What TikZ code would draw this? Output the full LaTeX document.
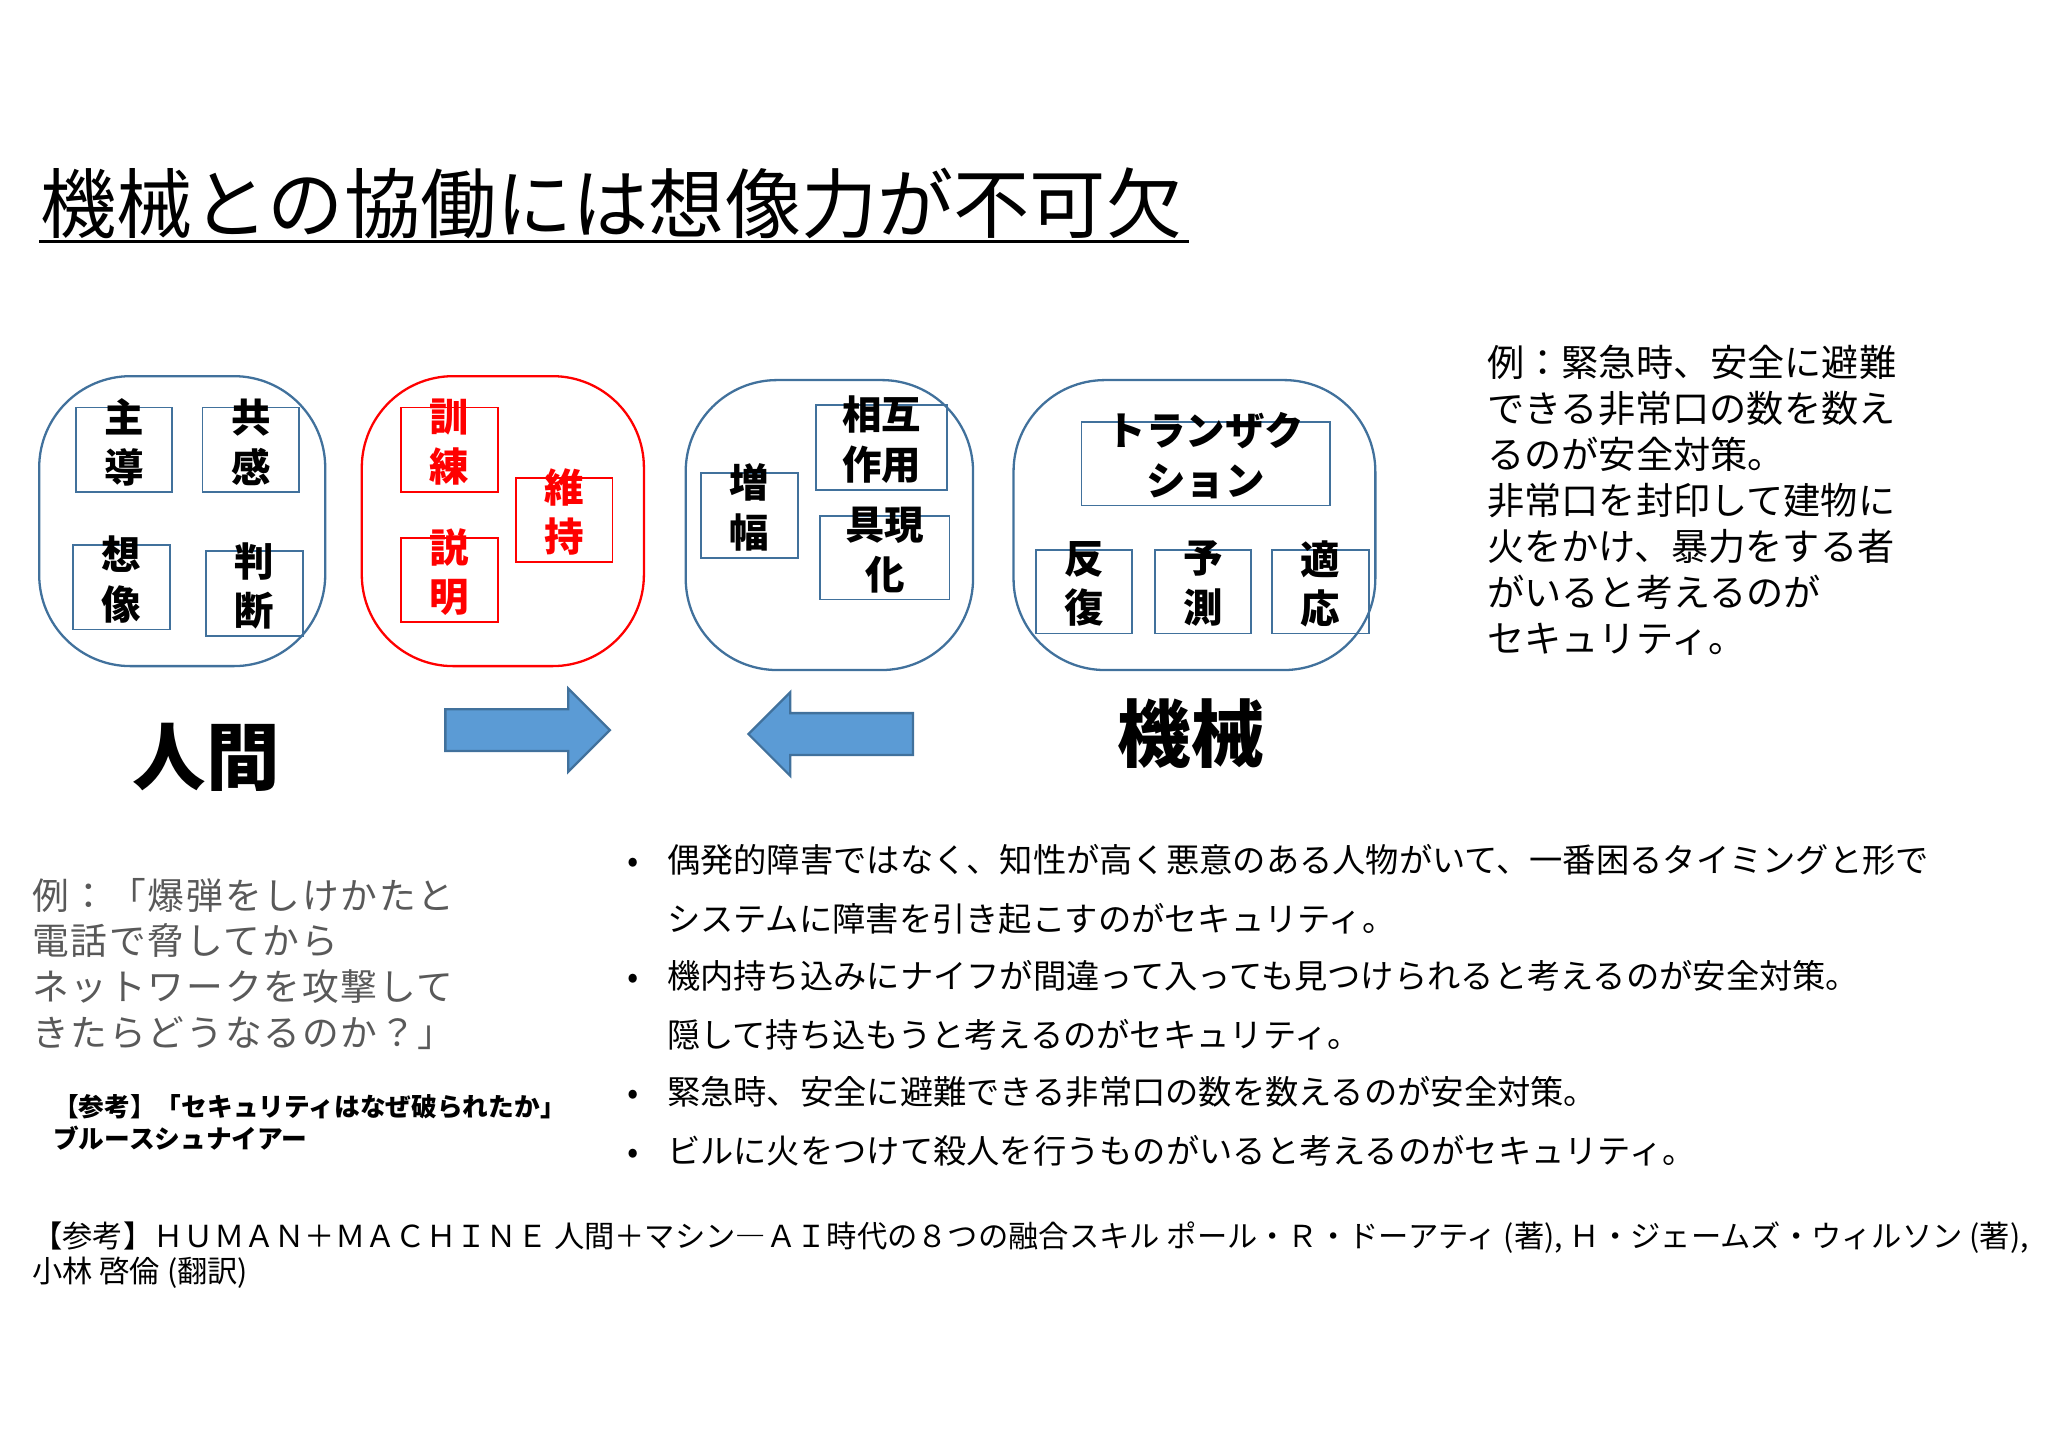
\documentclass[tikz,border=0pt]{standalone}
\usepackage{fontspec}
\setmainfont{Noto Sans CJK JP}
\begin{document}
\begin{tikzpicture}[x=0.1mm,y=-0.1mm,
  grp/.style={draw=#1,line width=0.5pt,rounded corners=7mm},
  ib/.style={draw=#1,line width=0.4pt},
  it/.style={font=\bfseries\fontsize{8.6}{10.8}\selectfont,align=center,inner sep=0pt},
  tl/.style={anchor=base west,inner sep=0pt},
  arr/.style={fill=arrblue,draw=arrdark,line width=0.5pt}]
\definecolor{bb}{HTML}{41719C}
\definecolor{arrblue}{HTML}{5B9BD5}
\definecolor{arrdark}{HTML}{41719C}
\definecolor{gt}{HTML}{595959}
\useasboundingbox (0,0) rectangle (1568,1108);
\node[tl,font=\fontsize{16.6}{18}\selectfont] (title) at (30,178) {機械との協働には想像力が不可欠};
\draw[line width=0.8pt] (30,185) -- (910,185);
% groups
\draw[grp=bb] (30,288) rectangle (249,510);
\draw[grp=red] (277,288) rectangle (493,510);
\draw[grp=bb] (525,291) rectangle (745,513);
\draw[grp=bb] (776,291) rectangle (1053,513);
% inner boxes
\foreach \x/\y/\w/\h/\c/\tc/\t in {58/312/74/65/bb/black/主\\導,155/312/74/65/bb/black/共\\感,56/417/74/65/bb/black/想\\像,158/422/74/65/bb/black/判\\断,307/312/74/65/red/red/訓\\練,395/366/74/64/red/red/維\\持,307/412/74/64/red/red/説\\明,537/362/74/65/bb/black/増\\幅,625/310/100/65/bb/black/相互\\作用,628/395/99/64/bb/black/具現\\化,828/323/190/64/bb/black/トランザク\\ション,793/421/74/64/bb/black/反\\復,884/421/74/64/bb/black/予\\測,974/421/74/64/bb/black/適\\応}{
  \draw[ib=\c] (\x,\y) rectangle ++(\w,\h);
  \node[it,text=\tc] at (\x+\w/2,\y+\h/2-6) {\t};
}
\node[font=\bfseries\fontsize{16}{18}\selectfont,inner sep=0pt] (human) at (158,580) {人間};
\node[font=\bfseries\fontsize{16}{18}\selectfont,inner sep=0pt] (machine) at (912,562) {機械};
\draw[arr] (341,543) -- (435,543) -- (435,527) -- (467,559) -- (435,591) -- (435,575) -- (341,575) -- cycle;
\draw[arr] (699,546) -- (605,546) -- (605,530) -- (573,562) -- (605,594) -- (605,578) -- (699,578) -- cycle;
% right text
\foreach \i/\t in {0/例：緊急時、安全に避難,1/できる非常口の数を数え,2/るのが安全対策。,3/非常口を封印して建物に,4/火をかけ、暴力をする者,5/がいると考えるのが,6/セキュリティ。}{
  \node[tl,font=\fontsize{8.1}{9}\selectfont] at (1138,288+35.3*\i) {\t};
}
% left example
\foreach \i/\t in {0/例：「爆弾をしけかたと,1/電話で脅してから,2/ネットワークを攻撃して,3/きたらどうなるのか？」}{
  \node[tl,text=gt,font=\fontsize{8.0}{9}\selectfont] at (24,696+35*\i) {\addfontfeature{LetterSpace=5}\t};
}
\node[tl,font=\bfseries\fontsize{5.6}{6}\selectfont] at (40,855) {【参考】「セキュリティはなぜ破られたか」};
\node[tl,font=\bfseries\fontsize{5.6}{6}\selectfont] at (40,879) {ブルースシュナイアー};
% bullets
\foreach \y/\b/\t in {668/1/偶発的障害ではなく、知性が高く悪意のある人物がいて、一番困るタイミングと形で,713/0/システムに障害を引き起こすのがセキュリティ。,757/1/機内持ち込みにナイフが間違って入っても見つけられると考えるのが安全対策。,802/0/隠して持ち込もうと考えるのがセキュリティ。,846/1/緊急時、安全に避難できる非常口の数を数えるのが安全対策。,891/1/ビルに火をつけて殺人を行うものがいると考えるのがセキュリティ。}{
  \node[tl,font=\fontsize{7.25}{8}\selectfont] at (510,\y) {\t};
  \ifnum\b=1 \node[tl,font=\fontsize{7.25}{8}\selectfont] at (480,\y) {•};\fi
}
\node[tl,font=\fontsize{6.6}{7}\selectfont] at (24,955) {【参考】ＨＵＭＡＮ＋ＭＡＣＨＩＮＥ 人間＋マシン―ＡＩ時代の８つの融合スキル ポール・Ｒ・ドーアティ (著), Ｈ・ジェームズ・ウィルソン (著),};
\node[tl,font=\fontsize{6.6}{7}\selectfont] at (24,982) {小林 啓倫 (翻訳)};
\end{tikzpicture}
\end{document}
